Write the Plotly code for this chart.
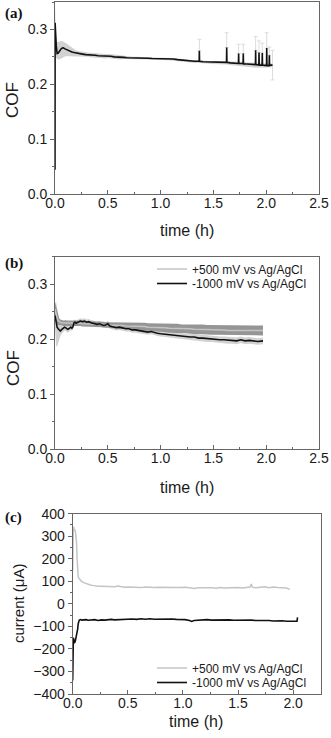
import plotly.graph_objects as go

# ---------------- Panel (a): COF vs time ----------------
t_a = [0.0, 0.001, 0.004, 0.008, 0.012, 0.016, 0.02, 0.03, 0.04, 0.05,
       0.06, 0.07, 0.08, 0.09, 0.10, 0.12, 0.14, 0.16, 0.18, 0.20,
       0.23, 0.26, 0.29, 0.32, 0.35, 0.38, 0.41, 0.44, 0.47, 0.50,
       0.53, 0.56, 0.59, 0.62, 0.65, 0.68, 0.71, 0.74, 0.77, 0.80,
       0.84, 0.88, 0.92, 0.96, 1.00, 1.04, 1.08, 1.12, 1.16, 1.20,
       1.24, 1.28, 1.32, 1.365, 1.367, 1.369, 1.40, 1.44, 1.48, 1.52,
       1.56, 1.60, 1.624, 1.626, 1.628, 1.66, 1.70, 1.737, 1.739, 1.741,
       1.781, 1.783, 1.785, 1.82, 1.86, 1.898, 1.900, 1.902, 1.930, 1.932,
       1.934, 1.961, 1.963, 1.965, 1.985, 2.003, 2.005, 2.007, 2.028, 2.030,
       2.032, 2.045, 2.06]
cof_a = [0.044, 0.312, 0.300, 0.285, 0.270, 0.262, 0.256, 0.257, 0.260, 0.263,
         0.265, 0.266, 0.2665, 0.265, 0.264, 0.262, 0.260, 0.259, 0.258, 0.257,
         0.256, 0.255, 0.254, 0.254, 0.253, 0.253, 0.252, 0.252, 0.251, 0.2515,
         0.251, 0.250, 0.250, 0.249, 0.249, 0.2485, 0.2485, 0.248, 0.248, 0.248,
         0.2475, 0.2475, 0.247, 0.247, 0.2465, 0.2465, 0.247, 0.246, 0.245, 0.244,
         0.243, 0.243, 0.242, 0.242, 0.261, 0.242, 0.241, 0.241, 0.240, 0.2405,
         0.240, 0.240, 0.240, 0.267, 0.240, 0.239, 0.239, 0.238, 0.256, 0.238,
         0.238, 0.256, 0.237, 0.237, 0.236, 0.236, 0.262, 0.236, 0.235, 0.258,
         0.235, 0.235, 0.257, 0.235, 0.2345, 0.234, 0.266, 0.234, 0.234, 0.253,
         0.234, 0.235, 0.235]
band_a_hi = [0.344, 0.320, 0.305, 0.292, 0.285, 0.280, 0.277, 0.277, 0.278, 0.279,
             0.279, 0.279, 0.278, 0.277, 0.276, 0.273, 0.270, 0.267, 0.264, 0.262,
             0.260, 0.259, 0.258, 0.258, 0.257, 0.257, 0.256, 0.256, 0.255, 0.255,
             0.255, 0.254, 0.254, 0.253, 0.252, 0.251, 0.251, 0.250, 0.250, 0.250,
             0.2495, 0.2495, 0.249, 0.249, 0.2485, 0.2485, 0.249, 0.248, 0.247, 0.246,
             0.245, 0.245, 0.244, 0.244, 0.244, 0.244, 0.243, 0.243, 0.242, 0.243,
             0.242, 0.242, 0.242, 0.242, 0.242, 0.241, 0.241, 0.241, 0.241, 0.241,
             0.241, 0.241, 0.240, 0.240, 0.240, 0.240, 0.240, 0.240, 0.239, 0.239,
             0.239, 0.239, 0.239, 0.239, 0.238, 0.238, 0.238, 0.238, 0.238, 0.238,
             0.238, 0.238, 0.238]
band_a_lo = [0.000, 0.250, 0.252, 0.250, 0.248, 0.247, 0.246, 0.245, 0.245, 0.246,
             0.247, 0.248, 0.249, 0.250, 0.251, 0.251, 0.251, 0.251, 0.251, 0.251,
             0.251, 0.251, 0.250, 0.250, 0.249, 0.249, 0.248, 0.248, 0.247, 0.248,
             0.247, 0.246, 0.246, 0.245, 0.246, 0.246, 0.246, 0.245, 0.245, 0.245,
             0.245, 0.245, 0.2445, 0.2445, 0.244, 0.244, 0.244, 0.243, 0.242, 0.241,
             0.240, 0.240, 0.239, 0.239, 0.239, 0.239, 0.238, 0.238, 0.237, 0.237,
             0.236, 0.236, 0.236, 0.236, 0.236, 0.235, 0.234, 0.233, 0.233, 0.233,
             0.232, 0.232, 0.232, 0.231, 0.230, 0.230, 0.230, 0.230, 0.230, 0.230,
             0.230, 0.230, 0.230, 0.230, 0.230, 0.230, 0.230, 0.230, 0.230, 0.230,
             0.230, 0.231, 0.231]

# error bars on the spikes (a)
err_t = [1.367, 1.626, 1.739, 1.783, 1.900, 1.932, 1.963, 2.005, 2.030, 2.060]
err_y = [0.261, 0.267, 0.256, 0.256, 0.262, 0.258, 0.257, 0.266, 0.253, 0.235]
err_plus = [0.021, 0.027, 0.017, 0.017, 0.025, 0.021, 0.018, 0.028, 0.015, 0.027]
err_minus = [0.0, 0.0, 0.0, 0.0, 0.0, 0.0, 0.0, 0.0, 0.0, 0.027]

# ---------------- Panel (b): COF vs time, two potentials ----------------
t_b = [0.0, 0.01, 0.02, 0.03, 0.04, 0.05, 0.06, 0.07, 0.08, 0.09,
       0.10, 0.11, 0.12, 0.13, 0.14, 0.15, 0.16, 0.17, 0.18, 0.19,
       0.20, 0.22, 0.24, 0.26, 0.28, 0.30, 0.32, 0.34, 0.36, 0.38,
       0.40, 0.42, 0.44, 0.46, 0.48, 0.50, 0.52, 0.55, 0.58, 0.61,
       0.64, 0.67, 0.70, 0.73, 0.76, 0.79, 0.82, 0.85, 0.88, 0.91,
       0.94, 0.97, 1.00, 1.04, 1.08, 1.12, 1.16, 1.20, 1.24, 1.28,
       1.32, 1.36, 1.40, 1.44, 1.48, 1.52, 1.56, 1.60, 1.64, 1.68,
       1.72, 1.76, 1.80, 1.84, 1.88, 1.92, 1.97]
cof_neg1000 = [0.243, 0.228, 0.222, 0.219, 0.216, 0.215, 0.217, 0.219, 0.221, 0.222,
               0.221, 0.219, 0.218, 0.219, 0.221, 0.222, 0.220, 0.223, 0.230, 0.231,
               0.229, 0.231, 0.233, 0.232, 0.233, 0.231, 0.232, 0.230, 0.229, 0.228,
               0.227, 0.228, 0.226, 0.225, 0.226, 0.228, 0.224, 0.222, 0.221, 0.222,
               0.220, 0.219, 0.219, 0.217, 0.217, 0.216, 0.215, 0.214, 0.213, 0.214,
               0.212, 0.211, 0.210, 0.209, 0.209, 0.207, 0.206, 0.206, 0.205, 0.204,
               0.204, 0.202, 0.202, 0.201, 0.201, 0.200, 0.199, 0.199, 0.198, 0.198,
               0.197, 0.199, 0.197, 0.198, 0.197, 0.196, 0.197]
cof_pos500 = [0.255, 0.245, 0.238, 0.234, 0.232, 0.231, 0.230, 0.230, 0.229, 0.229,
              0.230, 0.229, 0.229, 0.230, 0.229, 0.229, 0.230, 0.229, 0.229, 0.229,
              0.229, 0.229, 0.229, 0.228, 0.228, 0.228, 0.228, 0.228, 0.227, 0.227,
              0.227, 0.227, 0.227, 0.227, 0.226, 0.226, 0.226, 0.226, 0.225, 0.225,
              0.225, 0.224, 0.224, 0.224, 0.224, 0.223, 0.223, 0.223, 0.222, 0.222,
              0.222, 0.221, 0.221, 0.221, 0.220, 0.220, 0.220, 0.219, 0.219, 0.219,
              0.218, 0.218, 0.218, 0.217, 0.217, 0.217, 0.217, 0.217, 0.216, 0.216,
              0.216, 0.216, 0.216, 0.216, 0.216, 0.216, 0.216]
sd_neg1000 = [0.022, 0.040, 0.035, 0.025, 0.015, 0.010, 0.008, 0.007, 0.006, 0.006,
              0.006, 0.006, 0.006, 0.006, 0.005, 0.005, 0.005, 0.005, 0.005, 0.005,
              0.005, 0.005, 0.005, 0.005, 0.005, 0.005, 0.005, 0.005, 0.005, 0.005,
              0.005, 0.005, 0.005, 0.005, 0.005, 0.005, 0.005, 0.005, 0.005, 0.005,
              0.005, 0.005, 0.005, 0.005, 0.005, 0.005, 0.005, 0.005, 0.005, 0.005,
              0.005, 0.005, 0.005, 0.005, 0.005, 0.005, 0.005, 0.005, 0.005, 0.005,
              0.006, 0.006, 0.006, 0.006, 0.006, 0.006, 0.006, 0.006, 0.006, 0.006,
              0.006, 0.006, 0.006, 0.006, 0.006, 0.006, 0.006]
sd_pos500 = [0.012, 0.015, 0.012, 0.008, 0.006, 0.005, 0.005, 0.005, 0.005, 0.005,
             0.005, 0.005, 0.005, 0.005, 0.005, 0.005, 0.005, 0.005, 0.005, 0.005,
             0.005, 0.005, 0.005, 0.005, 0.005, 0.005, 0.005, 0.005, 0.005, 0.005,
             0.005, 0.005, 0.005, 0.005, 0.005, 0.005, 0.005, 0.005, 0.005, 0.006,
             0.006, 0.006, 0.006, 0.006, 0.006, 0.007, 0.007, 0.007, 0.007, 0.007,
             0.007, 0.007, 0.008, 0.008, 0.008, 0.008, 0.008, 0.008, 0.008, 0.009,
             0.009, 0.009, 0.009, 0.009, 0.009, 0.009, 0.009, 0.009, 0.009, 0.009,
             0.009, 0.009, 0.009, 0.009, 0.009, 0.009, 0.009]

# ---------------- Panel (c): current vs time ----------------
t_pos500_c = [0.0, 0.003, 0.006, 0.010, 0.015, 0.020, 0.025, 0.030, 0.035, 0.040,
              0.045, 0.050, 0.055, 0.060, 0.070, 0.080, 0.10, 0.12, 0.14, 0.16,
              0.18, 0.20, 0.23, 0.26, 0.29, 0.32, 0.35, 0.38, 0.41, 0.44,
              0.47, 0.50, 0.54, 0.58, 0.62, 0.66, 0.70, 0.74, 0.78, 0.82,
              0.86, 0.90, 0.94, 0.98, 1.02, 1.06, 1.10, 1.14, 1.18, 1.22,
              1.26, 1.30, 1.34, 1.38, 1.42, 1.46, 1.50, 1.54, 1.58, 1.61,
              1.62, 1.63, 1.66, 1.70, 1.74, 1.78, 1.82, 1.86, 1.90, 1.94,
              1.97]
cur_pos500 = [150, 335, 342, 338, 325, 330, 318, 300, 270, 200,
              140, 120, 114, 110, 105, 100, 94, 90, 86, 84,
              82, 80, 78, 78, 77, 76, 75, 76, 79, 75,
              74, 75, 73, 74, 72, 75, 73, 72, 74, 73,
              72, 74, 72, 73, 74, 71, 68, 71, 72, 70,
              71, 69, 72, 70, 71, 70, 72, 70, 73, 75,
              88, 74, 71, 73, 76, 72, 75, 73, 72, 70,
              64]
t_neg1000_c = [0.0, 0.003, 0.006, 0.010, 0.015, 0.020, 0.025, 0.030, 0.035, 0.040,
               0.045, 0.050, 0.055, 0.060, 0.070, 0.080, 0.10, 0.12, 0.14, 0.16,
               0.18, 0.20, 0.23, 0.26, 0.29, 0.32, 0.35, 0.38, 0.41, 0.44,
               0.47, 0.50, 0.54, 0.58, 0.62, 0.66, 0.70, 0.74, 0.78, 0.82,
               0.86, 0.90, 0.94, 0.98, 1.02, 1.06, 1.08, 1.10, 1.14, 1.18,
               1.22, 1.26, 1.30, 1.34, 1.38, 1.42, 1.46, 1.50, 1.54, 1.58,
               1.62, 1.66, 1.70, 1.74, 1.78, 1.82, 1.86, 1.90, 1.94, 1.98,
               2.01, 2.035, 2.04]
cur_neg1000 = [-340, -200, -150, -158, -172, -170, -162, -152, -142, -132,
               -112, -88, -76, -72, -70, -72, -71, -70, -73, -71,
               -72, -70, -74, -71, -72, -70, -69, -71, -70, -68,
               -70, -69, -67, -69, -66, -68, -66, -68, -67, -69,
               -68, -67, -69, -68, -70, -74, -78, -74, -72, -71,
               -70, -72, -71, -73, -72, -71, -73, -72, -74, -73,
               -72, -74, -73, -75, -74, -76, -74, -75, -77, -76,
               -78, -77, -60]

LIGHT = "#c4c4c4"
BAND_LIGHT = "#d2d2d2"
BAND_DARK = "#959595"
BLACK = "#111111"
AXC = "#666666"
FONT = "Liberation Sans, Arial, sans-serif"

fig = go.Figure()

# (a) band
fig.add_trace(go.Scatter(x=t_a, y=band_a_lo, mode="lines", line=dict(width=0, color=BAND_LIGHT),
                         showlegend=False, hoverinfo="skip", xaxis="x", yaxis="y"))
fig.add_trace(go.Scatter(x=t_a, y=band_a_hi, mode="lines", line=dict(width=0, color=BAND_LIGHT),
                         fill="tonexty", fillcolor=BAND_LIGHT, showlegend=False, hoverinfo="skip",
                         xaxis="x", yaxis="y"))
fig.add_trace(go.Scatter(x=err_t, y=err_y, mode="markers", marker=dict(size=0.1, color="rgba(0,0,0,0)"),
                         error_y=dict(type="data", array=err_plus, arrayminus=err_minus, symmetric=False,
                                      color="#dcdcdc", thickness=1, width=2),
                         showlegend=False, hoverinfo="skip", xaxis="x", yaxis="y"))
fig.add_trace(go.Scatter(x=t_a, y=cof_a, mode="lines", line=dict(width=1.6, color=BLACK),
                         showlegend=False, xaxis="x", yaxis="y"))

# (b) bands
neg_lo = [v - s for v, s in zip(cof_neg1000, sd_neg1000)]
neg_hi = [v + s for v, s in zip(cof_neg1000, sd_neg1000)]
pos_lo = [v - s for v, s in zip(cof_pos500, sd_pos500)]
pos_hi = [v + s for v, s in zip(cof_pos500, sd_pos500)]
fig.add_trace(go.Scatter(x=t_b, y=neg_lo, mode="lines", line=dict(width=0, color=BAND_LIGHT),
                         showlegend=False, hoverinfo="skip", xaxis="x2", yaxis="y2"))
fig.add_trace(go.Scatter(x=t_b, y=neg_hi, mode="lines", line=dict(width=0, color=BAND_LIGHT),
                         fill="tonexty", fillcolor=BAND_LIGHT, showlegend=False, hoverinfo="skip",
                         xaxis="x2", yaxis="y2"))
fig.add_trace(go.Scatter(x=t_b, y=pos_lo, mode="lines", line=dict(width=0, color=BAND_DARK),
                         showlegend=False, hoverinfo="skip", xaxis="x2", yaxis="y2"))
fig.add_trace(go.Scatter(x=t_b, y=pos_hi, mode="lines", line=dict(width=0, color=BAND_DARK),
                         fill="tonexty", fillcolor=BAND_DARK, showlegend=False, hoverinfo="skip",
                         xaxis="x2", yaxis="y2"))
fig.add_trace(go.Scatter(x=t_b, y=cof_pos500, mode="lines", line=dict(width=1.5, color=LIGHT),
                         name="+500 mV vs Ag/AgCl", legend="legend", xaxis="x2", yaxis="y2"))
fig.add_trace(go.Scatter(x=t_b, y=cof_neg1000, mode="lines", line=dict(width=1.6, color=BLACK),
                         name="-1000 mV vs Ag/AgCl", legend="legend2", xaxis="x2", yaxis="y2"))

# (c)
fig.add_trace(go.Scatter(x=t_pos500_c, y=cur_pos500, mode="lines", line=dict(width=1.5, color=LIGHT),
                         name="+500 mV vs Ag/AgCl", legend="legend3", xaxis="x3", yaxis="y3"))
fig.add_trace(go.Scatter(x=t_neg1000_c, y=cur_neg1000, mode="lines", line=dict(width=1.6, color=BLACK),
                         name="-1000 mV vs Ag/AgCl", legend="legend4", xaxis="x3", yaxis="y3"))

H = 738.0
W = 331.0


def px_y(p):
    return 1 - p / H


def px_x(p):
    return p / W


axis_common = dict(showline=True, mirror=True, linecolor=AXC, linewidth=1, showgrid=False,
                   zeroline=False, ticks="outside", ticklen=4, tickcolor=AXC, tickwidth=1,
                   automargin=False,
                   tickfont=dict(family=FONT, size=14, color="#1a1a1a"),
                   minor=dict(ticks="outside", ticklen=2, tickcolor=AXC, showgrid=False))
xaxis_common = dict(axis_common, ticks="inside", ticklabelstandoff=-4,
                    minor=dict(ticks="inside", ticklen=2, tickcolor=AXC, showgrid=False))

legend_common = dict(xanchor="left", yanchor="middle", bgcolor="rgba(0,0,0,0)",
                     font=dict(family=FONT, size=12, color="#1a1a1a"),
                     itemwidth=30, tracegroupgap=0, traceorder="normal")

LEG_X = 152

fig.update_layout(
    template="none",
    width=331, height=738,
    margin=dict(l=0, r=0, t=0, b=0, autoexpand=False),
    paper_bgcolor="white", plot_bgcolor="white",
    font=dict(family=FONT, color="#1a1a1a"),
    xaxis=dict(domain=[px_x(55), px_x(319)], range=[0, 2.5], dtick=0.5, tickformat=".1f",
               anchor="y", minor_dtick=0.25, **xaxis_common),
    yaxis=dict(domain=[px_y(194), px_y(2)], range=[0, 0.35], tickvals=[0, 0.1, 0.2, 0.3],
               tickformat=".1f", anchor="x", minor_dtick=0.05, **axis_common),
    xaxis2=dict(domain=[px_x(55), px_x(319)], range=[0, 2.5], dtick=0.5, tickformat=".1f",
                anchor="y2", minor_dtick=0.25, **xaxis_common),
    yaxis2=dict(domain=[px_y(449.3), px_y(256.7)], range=[0, 0.35], tickvals=[0, 0.1, 0.2, 0.3],
                tickformat=".1f", anchor="x2", minor_dtick=0.05, **axis_common),
    xaxis3=dict(domain=[px_x(72.7), px_x(320.7)], range=[0, 2.25], tickvals=[0, 0.5, 1.0, 1.5, 2.0],
                tickformat=".1f", anchor="y3", minor_dtick=0.25, **xaxis_common),
    yaxis3=dict(domain=[px_y(694), px_y(513.7)], range=[-400, 400], dtick=100,
                anchor="x3", minor_dtick=50, **axis_common),
    legend=dict(x=px_x(LEG_X), y=px_y(269), **legend_common),
    legend2=dict(x=px_x(LEG_X), y=px_y(283.5), **legend_common),
    legend3=dict(x=px_x(LEG_X), y=px_y(668), **legend_common),
    legend4=dict(x=px_x(LEG_X), y=px_y(682.5), **legend_common),
    annotations=[
        dict(text="<b>(a)</b>", x=px_x(3), y=px_y(13), xref="paper", yref="paper",
             xanchor="left", yanchor="middle", showarrow=False,
             font=dict(family="Liberation Serif, Times New Roman, serif", size=15, color="#111")),
        dict(text="<b>(b)</b>", x=px_x(3), y=px_y(264), xref="paper", yref="paper",
             xanchor="left", yanchor="middle", showarrow=False,
             font=dict(family="Liberation Serif, Times New Roman, serif", size=15, color="#111")),
        dict(text="<b>(c)</b>", x=px_x(3), y=px_y(517), xref="paper", yref="paper",
             xanchor="left", yanchor="middle", showarrow=False,
             font=dict(family="Liberation Serif, Times New Roman, serif", size=15, color="#111")),
        dict(text="COF", x=px_x(13), y=px_y(100), xref="paper", yref="paper", textangle=-90,
             xanchor="center", yanchor="middle", showarrow=False, font=dict(family=FONT, size=17)),
        dict(text="time (h)", x=px_x(187), y=px_y(230), xref="paper", yref="paper",
             xanchor="center", yanchor="middle", showarrow=False, font=dict(family=FONT, size=16)),
        dict(text="COF", x=px_x(13), y=px_y(368), xref="paper", yref="paper", textangle=-90,
             xanchor="center", yanchor="middle", showarrow=False, font=dict(family=FONT, size=17)),
        dict(text="time (h)", x=px_x(187), y=px_y(487), xref="paper", yref="paper",
             xanchor="center", yanchor="middle", showarrow=False, font=dict(family=FONT, size=16)),
        dict(text="current (μA)", x=px_x(18), y=px_y(603), xref="paper", yref="paper", textangle=-90,
             xanchor="center", yanchor="middle", showarrow=False, font=dict(family=FONT, size=15)),
        dict(text="time (h)", x=px_x(196), y=px_y(721), xref="paper", yref="paper",
             xanchor="center", yanchor="middle", showarrow=False, font=dict(family=FONT, size=16)),
    ],
)

fig.write_html("out.html", config={"displayModeBar": False},
               post_script="document.body.style.margin='0';document.body.style.overflow='hidden';")
